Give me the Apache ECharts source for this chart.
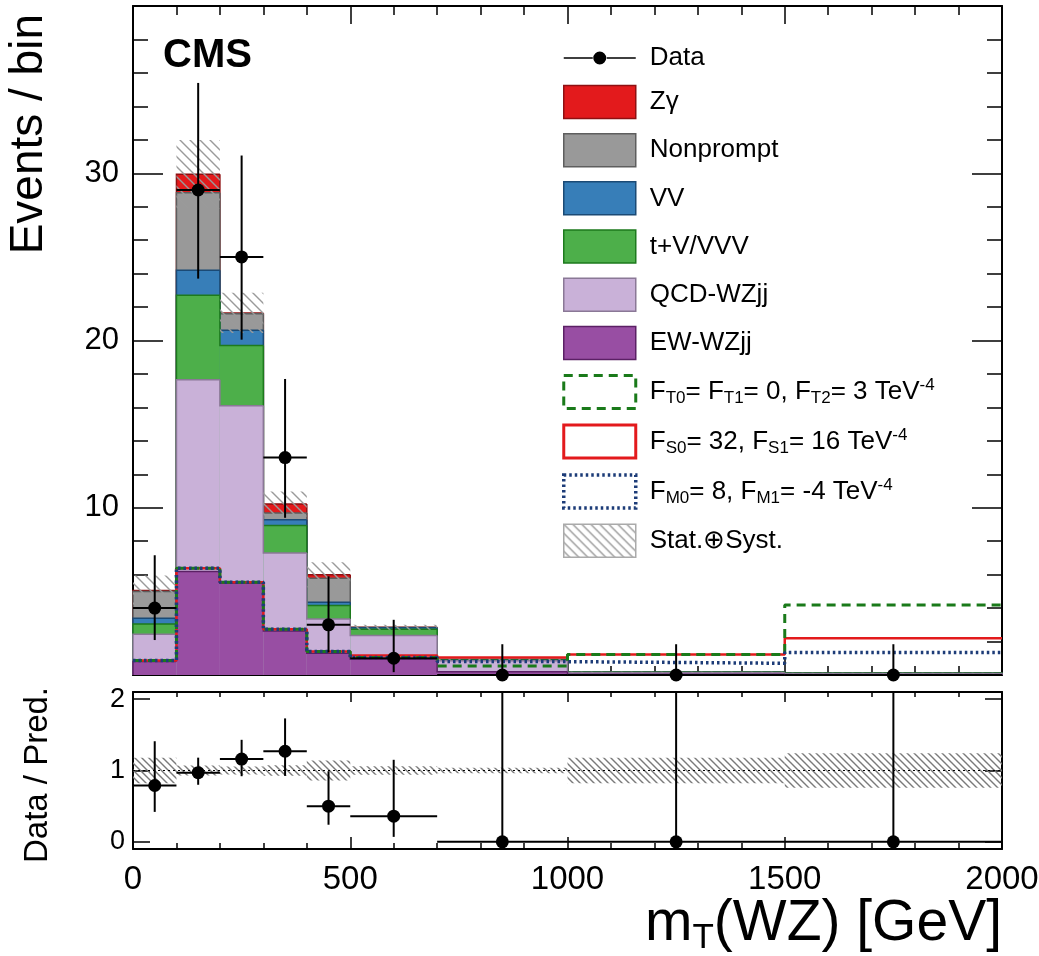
<!DOCTYPE html>
<html>
<head>
<meta charset="utf-8">
<script src="https://cdn.jsdelivr.net/npm/echarts@6/dist/echarts.min.js"></script>
<style>
html, body { margin: 0; padding: 0; background: #fff; }
#chart { width: 1039px; height: 956px; }
</style>
</head>
<body>
<div id="chart"></div>
<script>
// bin edges, GeV
const binEdges = [0, 100, 200, 300, 400, 500, 700, 1000, 1500, 2000];

// backgrounds, events / bin
const ewWZjj    = [0.80, 6.19, 5.49, 2.63, 1.30, 0.95, 0.20, 0.04, 0.02];
const qcdWZjj   = [1.64, 11.47, 10.61, 4.66, 2.05, 1.41, 0.65, 0.10, 0.06];
const tVVVV     = [0.61, 5.05, 3.60, 1.65, 0.80, 0.38, 0.05, 0.02, 0.02];
const vv        = [0.35, 1.49, 0.92, 0.34, 0.20, 0.08, 0.02, 0.01, 0.01];
const nonprompt = [1.59, 4.64, 0.98, 0.40, 1.44, 0.02, 0.00, 0.00, 0.00];
const zgamma    = [0.06, 1.10, 0.05, 0.54, 0.20, 0.01, 0.00, 0.00, 0.00];
const totUnc    = [0.90, 2.05, 1.20, 0.75, 0.75, 0.15, 0.04, 0.03, 0.02];

// aQGC hypotheses
const aqgcT = [0.86, 6.39, 5.55, 2.74, 1.40, 1.05, 0.54, 1.22, 4.19];
const aqgcS = [0.86, 6.39, 5.55, 2.74, 1.40, 1.16, 1.04, 1.22, 2.20];
const aqgcM = [0.86, 6.39, 5.55, 2.74, 1.40, 1.05, 0.80, 0.70, 1.34];

// data
const dataX  = [50, 150, 250, 350, 450, 600, 850, 1250, 1750];
const dataY  = [4, 29, 25, 13, 3, 1, 0, 0, 0];
const dataLo = [2.09, 23.7, 20.05, 9.4, 1.35, 0.17, 0, 0, 0];
const dataHi = [7.16, 35.4, 31.06, 17.7, 5.9, 3.3, 1.84, 1.84, 1.84];

// data / prediction
const ratioY   = [0.79, 0.97, 1.16, 1.27, 0.50, 0.36, 0, 0, 0];
const ratioLo  = [0.42, 0.80, 0.92, 0.925, 0.24, 0.07, 0, 0, 0];
const ratioHi  = [1.41, 1.18, 1.43, 1.73, 0.99, 1.15, 3.0, 3.0, 3.0];
const ratioUnc = [0.18, 0.07, 0.055, 0.075, 0.14, 0.06, 0.04, 0.18, 0.24];

const yTicksTop = [10, 20, 30];
const yTicksRatio = [0, 1, 2];

const FONT = 'Liberation Sans';

function hatch(step, color, width) {
  const c = document.createElement('canvas');
  c.width = step; c.height = step;
  const ctx = c.getContext('2d');
  ctx.strokeStyle = color;
  ctx.lineWidth = width;
  ctx.beginPath();
  ctx.moveTo(-2, -2); ctx.lineTo(step + 2, step + 2);
  ctx.moveTo(-2, step - 2); ctx.lineTo(2, step + 2);
  ctx.moveTo(step - 2, -2); ctx.lineTo(step + 2, 2);
  ctx.stroke();
  return { image: c, repeat: 'repeat' };
}
const hatchTop = hatch(10, '#9a9a9a', 1.4);
const hatchRatio = hatch(7, '#7a7a7a', 1.4);
const hatchLegend = hatch(9, '#9a9a9a', 1.4);

// drawn top of stack first, like ROOT
const comps = [
  { name: 'Zγ',        vals: zgamma,    fill: '#e31a1c', edge: '#8f1012' },
  { name: 'Nonprompt', vals: nonprompt, fill: '#999999', edge: '#5e5e5e' },
  { name: 'VV',        vals: vv,        fill: '#377eb8', edge: '#1b4a75' },
  { name: 't+V/VVV',   vals: tVVVV,     fill: '#4daf4a', edge: '#1d7a1d' },
  { name: 'QCD-WZjj',  vals: qcdWZjj,   fill: '#c9b1d8', edge: '#8a7896' },
  { name: 'EW-WZjj',   vals: ewWZjj,    fill: '#984ea3', edge: '#5b2065' }
];
let run = dataY.map(() => 0);
comps.slice().reverse().forEach(c => {
  run = run.map((r, i) => r + c.vals[i]);
  c.cum = run.slice();
});
const total = run;

function stackSeries(c) {
  const n = c.cum.length;
  return {
    type: 'custom', name: c.name, xAxisIndex: 0, yAxisIndex: 0, z: 2,
    itemStyle: { color: c.fill },
    data: c.cum.map((v, i) => [binEdges[i], binEdges[i + 1], v, i ? c.cum[i - 1] : 0, i === n - 1 ? 1 : 0]),
    renderItem: (params, api) => {
      const p0 = api.coord([api.value(0), 0]);
      const p1 = api.coord([api.value(1), api.value(2)]);
      const pp = api.coord([api.value(0), api.value(3)]);
      const pts = [pp, [p0[0], p1[1]], p1];
      if (api.value(4)) pts.push([p1[0], p0[1]]);
      return {
        type: 'group',
        children: [
          { type: 'rect', shape: { x: p0[0], y: p1[1], width: p1[0] - p0[0], height: p0[1] - p1[1] }, style: { fill: c.fill } },
          { type: 'polyline', shape: { points: pts }, style: { stroke: c.edge, lineWidth: 1.5, fill: null } }
        ]
      };
    }
  };
}

function bandSeries(name, xi, yi, centre, unc, pattern) {
  return {
    type: 'custom', name, xAxisIndex: xi, yAxisIndex: yi, z: 3,
    data: centre.map((t, i) => [binEdges[i], binEdges[i + 1], t - unc[i], t + unc[i]]),
    renderItem: (params, api) => {
      const a = api.coord([api.value(0), api.value(2)]);
      const b = api.coord([api.value(1), api.value(3)]);
      return { type: 'rect', shape: { x: a[0], y: b[1], width: b[0] - a[0], height: a[1] - b[1] }, style: { fill: pattern } };
    }
  };
}

function pointsSeries(name, xi, yi, ys, los, his, clip) {
  return {
    type: 'custom', name, xAxisIndex: xi, yAxisIndex: yi, z: 10, clip,
    data: ys.map((y, i) => [dataX[i], y, los[i], his[i], binEdges[i], binEdges[i + 1]]),
    renderItem: (params, api) => {
      const c = api.coord([api.value(0), api.value(1)]);
      const lo = api.coord([api.value(0), api.value(2)]);
      const hi = api.coord([api.value(0), api.value(3)]);
      const l = api.coord([api.value(4), api.value(1)]);
      const r = api.coord([api.value(5), api.value(1)]);
      return {
        type: 'group',
        children: [
          { type: 'line', shape: { x1: c[0], y1: lo[1], x2: c[0], y2: hi[1] }, style: { stroke: '#000', lineWidth: 2 } },
          { type: 'line', shape: { x1: l[0], y1: c[1], x2: r[0], y2: c[1] }, style: { stroke: '#000', lineWidth: 2 } },
          { type: 'circle', shape: { cx: c[0], cy: c[1], r: 6.5 }, style: { fill: '#000' } }
        ]
      };
    }
  };
}

function stepPoints(vals) {
  return binEdges.map((e, i) => [e, vals[Math.min(i, vals.length - 1)]]);
}
function aqgcSeries(name, vals, lineStyle) {
  return {
    type: 'line', name, xAxisIndex: 0, yAxisIndex: 0, z: 4, step: 'end',
    symbol: 'none', data: stepPoints(vals), lineStyle
  };
}

const legendText = {
  'FT': 'F{s|T0}= F{s|T1}= 0, F{s|T2}= 3 TeV{p|-4}',
  'FS': 'F{s|S0}= 32, F{s|S1}= 16 TeV{p|-4}',
  'FM': 'F{s|M0}= 8, F{s|M1}= -4 TeV{p|-4}'
};

function xAxisDef(grid, pos, labels, major, minor) {
  return {
    gridIndex: grid, type: 'value', min: 0, max: 2000, interval: 500, position: pos,
    axisLine: { onZero: false, lineStyle: { color: '#000', width: 2 } },
    axisTick: { inside: true, length: major, lineStyle: { color: '#000', width: 1.5 } },
    minorTick: { show: true, splitNumber: 5, length: minor, lineStyle: { color: '#000', width: 1.5 } },
    axisLabel: { show: labels, color: '#000', fontFamily: FONT, fontSize: 33, margin: 14, formatter: v => String(v) },
    splitLine: { show: false }
  };
}

function yAxisDef(grid, pos, range, labels, ticks) {
  return Object.assign({
    gridIndex: grid, type: 'value', position: pos,
    axisLine: { onZero: false, lineStyle: { color: '#000', width: 2 } },
    splitLine: { show: false }
  }, range, ticks, { axisLabel: labels });
}

const topTicks = {
  axisTick: { inside: true, length: 30, lineStyle: { color: '#000', width: 1.5 } },
  minorTick: { show: true, splitNumber: 5, length: 15, lineStyle: { color: '#000', width: 1.5 } }
};
const ratioTicks = {
  axisTick: { customValues: yTicksRatio, inside: true, length: 17, lineStyle: { color: '#000', width: 1.5 } }
};

const chart = echarts.init(document.getElementById('chart'), null, { renderer: 'canvas' });
const option = {
  animation: false,
  backgroundColor: '#fff',
  grid: [
    { left: 133, top: 6, width: 869, height: 669, outerBoundsMode: 'none', containLabel: false },
    { left: 133, top: 692, width: 869, height: 157, outerBoundsMode: 'none', containLabel: false }
  ],
  xAxis: [
    xAxisDef(0, 'bottom', false, 18, 9),
    xAxisDef(0, 'top', false, 18, 9),
    xAxisDef(1, 'bottom', true, 12, 6),
    xAxisDef(1, 'top', false, 10, 5)
  ],
  yAxis: [
    yAxisDef(0, 'left', { min: 0, max: 40, interval: 10 },
      { customValues: yTicksTop, color: '#000', fontFamily: FONT, fontSize: 31, margin: 14 }, topTicks),
    yAxisDef(0, 'right', { min: 0, max: 40, interval: 10 }, { show: false }, topTicks),
    yAxisDef(1, 'left', { min: -0.1, max: 2.1 },
      { customValues: yTicksRatio, color: '#000', fontFamily: FONT, fontSize: 27, margin: 8 }, ratioTicks),
    yAxisDef(1, 'right', { min: -0.1, max: 2.1 }, { show: false }, ratioTicks)
  ],
  legend: {
    orient: 'vertical', left: 562, top: 45, padding: 0, itemWidth: 72, itemHeight: 33, itemGap: 13.7,
    selectedMode: false,
    textStyle: {
      color: '#000', fontFamily: FONT, fontSize: 26, padding: [0, 0, 0, 9],
      rich: {
        s: { fontFamily: FONT, fontSize: 17, color: '#000', padding: [13, 0, 0, 0] },
        p: { fontFamily: FONT, fontSize: 17, color: '#000', padding: [0, 0, 13, 0] }
      }
    },
    formatter: n => legendText[n] || n,
    data: [
      { name: 'Data', icon: 'path://M0,15.8L29,15.8L29,17.2L0,17.2Z M43,15.8L72,15.8L72,17.2L43,17.2Z M29.5,16.5A6.5,6.5 0 1,1 42.5,16.5A6.5,6.5 0 1,1 29.5,16.5Z', itemStyle: { color: '#000', borderWidth: 0 } }
    ].concat(comps.map(c => ({ name: c.name, icon: 'rect', itemStyle: { color: c.fill, borderColor: c.edge, borderWidth: 1.5 } })))
     .concat([
      { name: 'FT', icon: 'rect', itemStyle: { color: 'rgba(0,0,0,0)', borderColor: '#1a7a1a', borderWidth: 3, borderType: [9, 6] } },
      { name: 'FS', icon: 'rect', itemStyle: { color: 'rgba(0,0,0,0)', borderColor: '#e31a1c', borderWidth: 3 } },
      { name: 'FM', icon: 'rect', itemStyle: { color: 'rgba(0,0,0,0)', borderColor: '#1d3c78', borderWidth: 3.5, borderType: [2.5, 3] } },
      { name: 'Stat.⊕Syst.', icon: 'rect', itemStyle: { color: hatchLegend, borderColor: '#aaaaaa', borderWidth: 1.5 } }
    ])
  },
  graphic: [
    { type: 'text', left: 163, top: 36, z: 20, style: { text: 'CMS', fontFamily: FONT, fontWeight: 'bold', fontSize: 40, fill: '#000' } },
    { type: 'text', x: 29, y: 14, rotation: Math.PI / 2, z: 20, style: { text: 'Events / bin', fontFamily: FONT, fontSize: 46, fill: '#000', align: 'right', verticalAlign: 'middle' } },
    { type: 'text', x: 38, y: 775, rotation: Math.PI / 2, z: 20, style: { text: 'Data / Pred.', fontFamily: FONT, fontSize: 33, fill: '#000', align: 'center', verticalAlign: 'middle' } },
    {
      type: 'text', x: 1002, y: 924, z: 20,
      style: {
        text: 'm{s|T}(WZ) [GeV]', fontFamily: FONT, fontSize: 57, fill: '#000', align: 'right', verticalAlign: 'middle',
        rich: { s: { fontFamily: FONT, fontSize: 35, fill: '#000', padding: [29, 0, 0, 0] } }
      }
    }
  ],
  series: comps.map(stackSeries).concat([
    bandSeries('Stat.⊕Syst.', 0, 0, total, totUnc, hatchTop),
    aqgcSeries('FS', aqgcS, { color: '#e31a1c', width: 2.5 }),
    aqgcSeries('FT', aqgcT, { color: '#1a7a1a', width: 3, type: [9, 6] }),
    aqgcSeries('FM', aqgcM, { color: '#1d3c78', width: 3.5, type: [2.5, 3] }),
    pointsSeries('Data', 0, 0, dataY, dataLo, dataHi, false),
    bandSeries('Ratio band', 2, 2, ratioY.map(() => 1), ratioUnc, hatchRatio),
    {
      type: 'line', name: 'Unity', xAxisIndex: 2, yAxisIndex: 2, z: 4, symbol: 'none',
      data: [[0, 1], [2000, 1]], lineStyle: { color: '#000', width: 1.2, type: [2, 3] }
    },
    pointsSeries('Data / Pred.', 2, 2, ratioY, ratioLo, ratioHi, true)
  ])
};
chart.setOption(option);
</script>
</body>
</html>
